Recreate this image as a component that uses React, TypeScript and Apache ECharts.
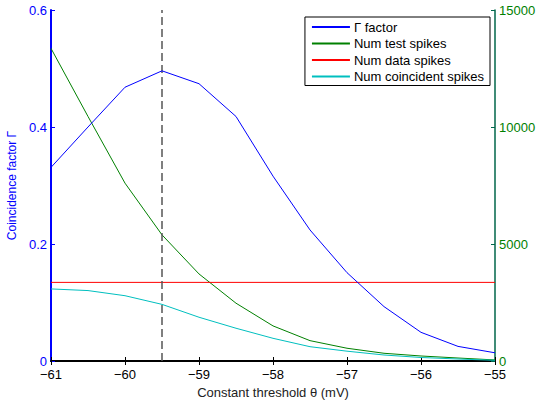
import React, { useEffect, useRef } from "react";
import * as echarts from "echarts";

const thresholds = [-61, -60.5, -60, -59.5, -59, -58.5, -58, -57.5, -57, -56.5, -56, -55.5, -55];
const gammaFactor = [0.331, 0.40, 0.468, 0.496, 0.474, 0.418, 0.316, 0.224, 0.151, 0.093, 0.049, 0.025, 0.014];
const numTestSpikes = [13360, 10450, 7600, 5390, 3720, 2470, 1500, 870, 545, 330, 214, 128, 45];
const numDataSpikes = [3360, 3360, 3360, 3360, 3360, 3360, 3360, 3360, 3360, 3360, 3360, 3360, 3360];
const numCoincidentSpikes = [3080, 3010, 2790, 2420, 1870, 1400, 970, 611, 420, 256, 150, 85, 30];
const optimalThreshold = -59.5;

const FONT = "Liberation Sans";
const minus = (v: number) => String(v).replace("-", "\u2212");

export default function App() {
  const ref = useRef<HTMLDivElement>(null);
  useEffect(() => {
    if (!ref.current) return;
    const chart = echarts.init(ref.current, null, { renderer: "svg" });
    const pair = (ys: number[]) => thresholds.map((x, i) => [x, ys[i]]);
    chart.setOption({
      animation: false,
      backgroundColor: "#fff",
      textStyle: { fontFamily: FONT },
      grid: { left: 51, right: 41, top: 10, bottom: 39, outerBoundsMode: "none", containLabel: false },
      legend: {
        orient: "vertical",
        right: 46,
        top: 17,
        itemWidth: 38,
        itemHeight: 2,
        itemGap: 2.5,
        icon: "rect",
        padding: [3, 6, 2, 7],
        borderColor: "#000",
        borderWidth: 1,
        backgroundColor: "#fff",
        textStyle: { fontFamily: FONT, fontSize: 13, lineHeight: 14, color: "#000", padding: [0, 0, 0, -1] },
        data: ["\u0393 factor", "Num test spikes", "Num data spikes", "Num coincident spikes"],
      },
      xAxis: [
        {
          type: "value",
          min: -61,
          max: -55,
          interval: 1,
          name: "Constant threshold \u03b8 (mV)",
          nameLocation: "middle",
          nameGap: 21,
          nameTextStyle: { fontFamily: FONT, fontSize: 13, color: "#222" },
          axisLine: { lineStyle: { color: "#000", width: 2 } },
          axisTick: { inside: true, length: 4, lineStyle: { color: "#000" } },
          axisLabel: { formatter: minus, fontFamily: FONT, fontSize: 13, lineHeight: 13, color: "#000", margin: 7 },
          splitLine: { show: false },
        },
        {
          type: "value",
          position: "top",
          min: -61,
          max: -55,
          interval: 1,
          axisLine: { lineStyle: { color: "#000", width: 1 } },
          axisTick: { inside: true, length: 4, lineStyle: { color: "#000" } },
          axisLabel: { show: false },
          splitLine: { show: false },
        },
      ],
      yAxis: [
        {
          type: "value",
          min: 0,
          max: 0.6,
          interval: 0.2,
          name: "Coincidence factor \u0393",
          nameLocation: "middle",
          nameGap: 18,
          nameTextStyle: { fontFamily: FONT, fontSize: 12, color: "#0000ff" },
          axisLine: { show: true, lineStyle: { color: "#0000ff", width: 2 } },
          axisTick: { show: true, inside: true, length: 4, lineStyle: { color: "#0000ff" } },
          axisLabel: {
            fontFamily: FONT,
            fontSize: 13,
            lineHeight: 13,
            color: "#0000ff",
            margin: 4,
            formatter: (v: number) => (v === 0 ? "0" : v.toFixed(1)),
          },
          splitLine: { show: false },
        },
        {
          type: "value",
          position: "right",
          min: 0,
          max: 15000,
          interval: 5000,
          axisLine: { show: true, lineStyle: { color: "#00664a", width: 1.5 } },
          axisTick: { show: true, inside: true, length: 4, lineStyle: { color: "#00664a" } },
          axisLabel: {
            fontFamily: FONT,
            fontSize: 13,
            lineHeight: 13,
            color: "#008000",
            margin: 4,
            formatter: (v: number) => String(v),
          },
          splitLine: { show: false },
        },
      ],
      series: [
        {
          name: "\u0393 factor",
          type: "line",
          xAxisIndex: 0,
          yAxisIndex: 0,
          data: pair(gammaFactor),
          showSymbol: false,
          color: "#0000ff",
          lineStyle: { width: 1, color: "#0000ff" },
          z: 5,
          markLine: {
            silent: true,
            symbol: "none",
            label: { show: false },
            lineStyle: { type: [8, 4], color: "#555", width: 1.5 },
            data: [{ xAxis: optimalThreshold }],
          },
        },
        {
          name: "Num test spikes",
          type: "line",
          yAxisIndex: 1,
          data: pair(numTestSpikes),
          showSymbol: false,
          color: "#008000",
          lineStyle: { width: 1, color: "#008000" },
        },
        {
          name: "Num data spikes",
          type: "line",
          yAxisIndex: 1,
          data: pair(numDataSpikes),
          showSymbol: false,
          color: "#ff0000",
          lineStyle: { width: 1, color: "#ff0000" },
        },
        {
          name: "Num coincident spikes",
          type: "line",
          yAxisIndex: 1,
          data: pair(numCoincidentSpikes),
          showSymbol: false,
          color: "#00bfbf",
          lineStyle: { width: 1, color: "#00bfbf" },
        },
      ],
    });
    return () => chart.dispose();
  }, []);
  return <div ref={ref} style={{ width: 536, height: 400, position: "absolute", left: 0, top: 0 }} />;
}
